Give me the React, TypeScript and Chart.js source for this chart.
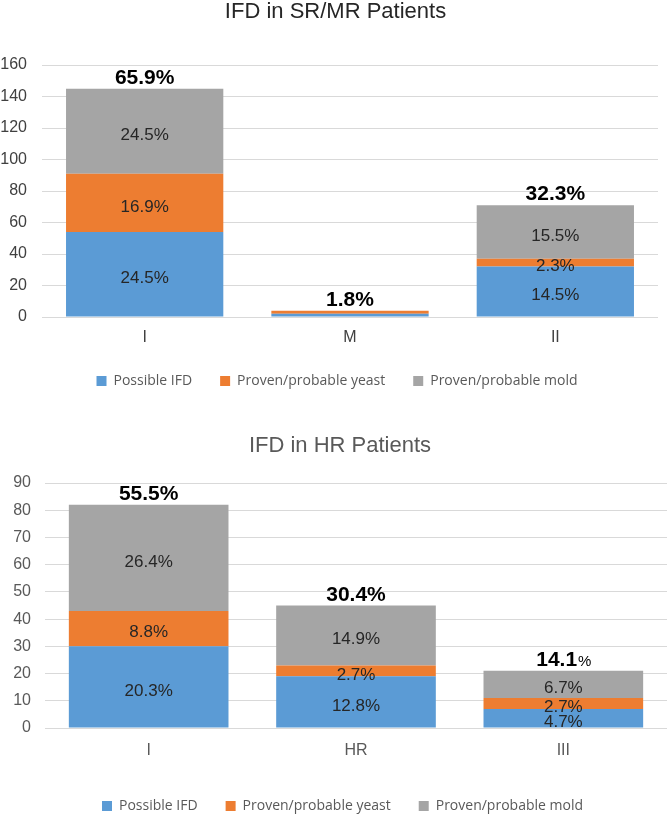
import React, { useEffect, useRef } from 'react';
import { Chart, registerables } from 'chart.js';

Chart.register(...registerables);

// ---------- shared ----------
const SERIES_NAMES = ['Possible IFD', 'Proven/probable yeast', 'Proven/probable mold'];
const SERIES_COLORS = ['#5B9BD5', '#ED7D31', '#A5A5A5'];

// ---------- chart 1: SR/MR ----------
const srTitle = 'IFD in SR/MR Patients';
const srCategories = ['I', 'M', 'II'];
const srPossible = [54, 2, 32];
const srYeast = [37, 2, 5];
const srMold = [54, 0, 34];
const srPossibleText = ['24.5%', '', '14.5%'];
const srYeastText = ['16.9%', '', '2.3%'];
const srMoldText = ['24.5%', '', '15.5%'];
const srTotalText = ['65.9%', '1.8%', '32.3%'];
const srTotalSmallPct = [false, false, false];
const srYMax = 160;
const srYStep = 20;

// ---------- chart 2: HR ----------
const hrTitle = 'IFD in HR Patients';
const hrCategories = ['I', 'HR', 'III'];
const hrPossible = [30, 19, 7];
const hrYeast = [13, 4, 4];
const hrMold = [39, 22, 10];
const hrPossibleText = ['20.3%', '12.8%', '4.7%'];
const hrYeastText = ['8.8%', '2.7%', '2.7%'];
const hrMoldText = ['26.4%', '14.9%', '6.7%'];
const hrTotalText = ['55.5%', '30.4%', '14.1%'];
const hrTotalSmallPct = [false, false, true];
const hrYMax = 90;
const hrYStep = 10;

const ARIAL = '"Liberation Sans", Arial, sans-serif';

const segLabelPlugin = {
  id: 'segLabels',
  afterLayout(chart: any, _args: any, opts: any) {
    const dxT = opts.titleShift || 0;
    const dxL = opts.legendShift || 0;
    if (chart.titleBlock) {
      chart.titleBlock.left += dxT;
      chart.titleBlock.right += dxT;
    }
    if (chart.legend) {
      chart.legend.left += dxL;
      chart.legend.right += dxL;
    }
  },
  afterDatasetsDraw(chart: any, _args: any, opts: any) {
    const ctx = chart.ctx;
    const segTexts: string[][] = opts.segTexts;
    const totals: string[] = opts.totals;
    const smallPct: boolean[] = opts.smallPct;
    ctx.save();
    ctx.font = `17px ${ARIAL}`;
    ctx.fillStyle = opts.segColor;
    ctx.textAlign = 'center';
    ctx.textBaseline = 'middle';
    segTexts.forEach((arr, di) => {
      const meta = chart.getDatasetMeta(di);
      meta.data.forEach((el: any, j: number) => {
        const t = arr[j];
        if (!t) return;
        const p = el.getProps(['x', 'y', 'base'], true);
        ctx.fillText(t, p.x, (p.y + p.base) / 2 + 4);
      });
    });
    // totals above stacks
    const n = chart.data.labels.length;
    for (let j = 0; j < n; j++) {
      let top = Infinity;
      let cx = 0;
      chart.data.datasets.forEach((_d: any, di: number) => {
        const el = chart.getDatasetMeta(di).data[j];
        const p = el.getProps(['x', 'y', 'base'], true);
        top = Math.min(top, p.y, p.base);
        cx = p.x;
      });
      const txt = totals[j];
      const by = top - 5;
      ctx.fillStyle = '#000000';
      ctx.textBaseline = 'alphabetic';
      if (smallPct[j]) {
        const num = txt.replace('%', '');
        ctx.font = `bold 21px ${ARIAL}`;
        const w1 = ctx.measureText(num).width;
        ctx.font = `15px ${ARIAL}`;
        const w2 = ctx.measureText('%').width;
        const sx = cx - (w1 + w2) / 2;
        ctx.textAlign = 'left';
        ctx.font = `bold 21px ${ARIAL}`;
        ctx.fillText(num, sx, by);
        ctx.font = `15px ${ARIAL}`;
        ctx.fillText('%', sx + w1 + 1, by);
      } else {
        ctx.textAlign = 'center';
        ctx.font = `bold 21px ${ARIAL}`;
        ctx.fillText(txt, cx, by);
      }
    }
    ctx.restore();
  },
};

type Cfg = {
  title: string;
  categories: string[];
  series: number[][];
  segTexts: string[][];
  totals: string[];
  smallPct: boolean[];
  yMax: number;
  yStep: number;
  height: number;
  titleColor: string;
  tickColor: string;
  segColor: string;
  titlePadTop: number;
  titlePadBottom: number;
  xAxisHeight: number;
  xTickPad: number;
  yAxisWidth: number;
  yTickPad: number;
  padRight: number;
  barPct: number;
  titleShift: number;
  legendShift: number;
};

function StackedChart({ cfg, top }: { cfg: Cfg; top: number }) {
  const ref = useRef<HTMLCanvasElement | null>(null);
  useEffect(() => {
    if (!ref.current) return;
    const chart = new Chart(ref.current, {
      type: 'bar',
      data: {
        labels: cfg.categories,
        datasets: cfg.series.map((d, i) => ({
          label: SERIES_NAMES[i],
          data: d,
          backgroundColor: SERIES_COLORS[i],
          borderWidth: 0,
          barPercentage: cfg.barPct,
          categoryPercentage: 1,
        })),
      },
      options: {
        responsive: false,
        animation: false,
        devicePixelRatio: 1,
        layout: { padding: { left: 0, right: cfg.padRight, top: 0, bottom: 0 } },
        scales: {
          x: {
            stacked: true,
            grid: { display: false, drawTicks: false },
            border: { display: false },
            ticks: { color: cfg.tickColor, font: { family: ARIAL, size: 16 }, padding: cfg.xTickPad },
            afterFit: (s: any) => {
              s.height = cfg.xAxisHeight;
            },
          },
          y: {
            stacked: true,
            min: 0,
            max: cfg.yMax,
            ticks: { stepSize: cfg.yStep, color: cfg.tickColor, font: { family: ARIAL, size: 16 }, padding: cfg.yTickPad },
            grid: { color: '#D9D9D9', drawTicks: false, lineWidth: 1 },
            border: { display: false },
            afterFit: (s: any) => {
              s.width = cfg.yAxisWidth;
            },
          },
        },
        plugins: {
          title: {
            display: true,
            text: cfg.title,
            color: cfg.titleColor,
            font: { family: ARIAL, size: 22, weight: 'normal', lineHeight: 1 },
            padding: { top: cfg.titlePadTop, bottom: cfg.titlePadBottom },
          },
          legend: {
            position: 'bottom',
            labels: {
              boxWidth: 10,
              boxHeight: 10,
              padding: 28,
              color: '#595959',
              font: { family: '"Open Sans", "Noto Sans", sans-serif', size: 14 },
            },
          },
          tooltip: { enabled: false },
          segLabels: {
            segTexts: cfg.segTexts,
            totals: cfg.totals,
            smallPct: cfg.smallPct,
            segColor: cfg.segColor,
            titleShift: cfg.titleShift,
            legendShift: cfg.legendShift,
          },
        } as any,
      },
      plugins: [segLabelPlugin as any],
    });
    return () => chart.destroy();
  }, [cfg]);
  return (
    <canvas
      ref={ref}
      width={668}
      height={cfg.height}
      style={{ position: 'absolute', left: 0, top, width: 668, height: cfg.height, display: 'block' }}
    />
  );
}

const srCfg: Cfg = {
  title: srTitle,
  categories: srCategories,
  series: [srPossible, srYeast, srMold],
  segTexts: [srPossibleText, srYeastText, srMoldText],
  totals: srTotalText,
  smallPct: srTotalSmallPct,
  yMax: srYMax,
  yStep: srYStep,
  height: 398,
  titleColor: '#262626',
  tickColor: '#404040',
  segColor: '#262626',
  titlePadTop: 1,
  titlePadBottom: 42,
  xAxisHeight: 29,
  xTickPad: 11,
  yAxisWidth: 42,
  yTickPad: 15,
  padRight: 10,
  barPct: 0.766,
  titleShift: 6.5,
  legendShift: 8,
};

const hrCfg: Cfg = {
  title: hrTitle,
  categories: hrCategories,
  series: [hrPossible, hrYeast, hrMold],
  segTexts: [hrPossibleText, hrYeastText, hrMoldText],
  totals: hrTotalText,
  smallPct: hrTotalSmallPct,
  yMax: hrYMax,
  yStep: hrYStep,
  height: 423,
  titleColor: '#595959',
  tickColor: '#595959',
  segColor: '#262626',
  titlePadTop: 35,
  titlePadBottom: 26,
  xAxisHeight: 43,
  xTickPad: 13,
  yAxisWidth: 45,
  yTickPad: 14,
  padRight: 1,
  barPct: 0.77,
  titleShift: 6.5,
  legendShift: 9,
};

export default function App() {
  return (
    <div
      style={{
        position: 'absolute',
        left: 0,
        top: 0,
        width: 668,
        height: 817,
        overflow: 'hidden',
        background: '#ffffff',
      }}
    >
      <StackedChart cfg={srCfg} top={0} />
      <StackedChart cfg={hrCfg} top={400} />
    </div>
  );
}
